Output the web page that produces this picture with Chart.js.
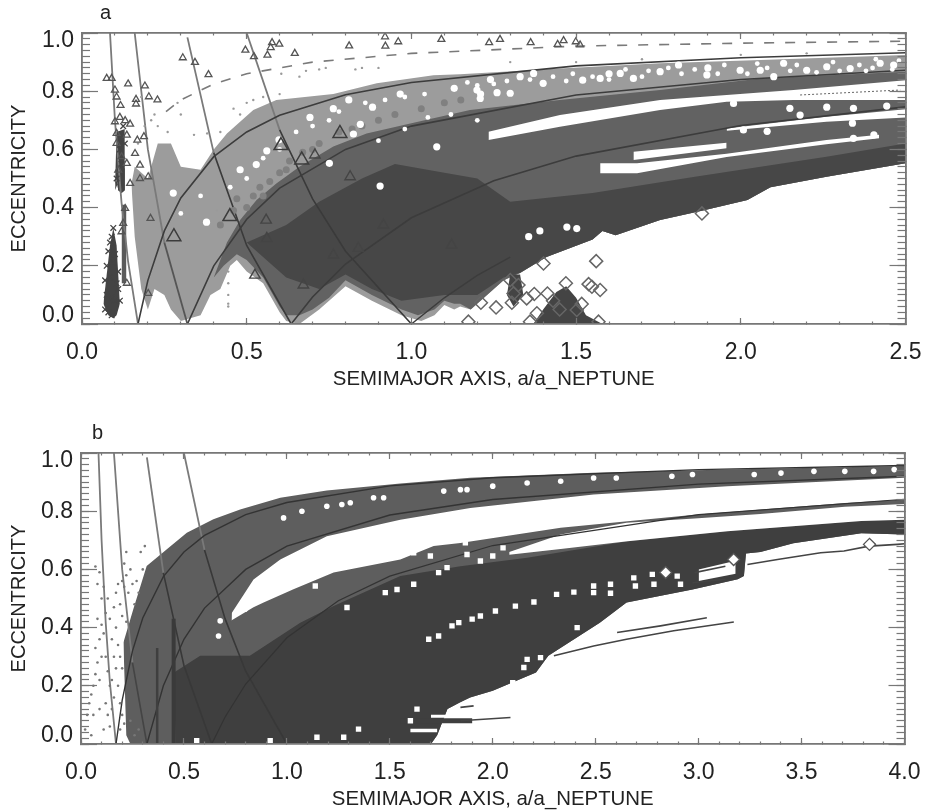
<!DOCTYPE html>
<html><head><meta charset="utf-8">
<style>
html,body{margin:0;padding:0;background:#fff;width:927px;height:812px;overflow:hidden}
canvas{position:absolute;left:0;filter:blur(.45px)}
#ca{top:0}#cb{top:406px}
.tag{position:absolute;font:20px "Liberation Sans",sans-serif;color:#222}
</style>
<script src="https://cdn.jsdelivr.net/npm/chart.js@4"></script>
</head><body>
<canvas id="ca" width="927" height="406"></canvas>
<canvas id="cb" width="927" height="406"></canvas>
<div class="tag" style="left:100px;top:1px">a</div>
<div class="tag" style="left:92px;top:421px">b</div>
<script>
// ---- axis values
const xTitle='SEMIMAJOR AXIS, a/a_NEPTUNE', yTitle='ECCENTRICITY';
const aXTicks=[0,.5,1,1.5,2,2.5], aXLabels=['0.0','0.5','1.0','1.5','2.0','2.5'];
const bXTicks=[0,.5,1,1.5,2,2.5,3,3.5,4], bXLabels=['0.0','0.5','1.0','1.5','2.0','2.5','3.0','3.5','4.0'];
const yTicks=[0,.2,.4,.6,.8,1], yLabels=[['0.0',''],'0.2','0.4','0.6','0.8',['','1.0']];
const xMinorStep=.1, yMinorStep=.02;

// ---- reference curves (a, e)
const apo17=[[.085,1],[.1,.7],[.12,.417],[.14,.214],[.17,0]];
const apo32Up=[[.16,1],[.2,.6],[.25,.28]], apo32Low=[[.25,.28],[.32,0]];
const apo64Up=[[.32,.985],[.4,.588]], apo64Low=[[.4,.588],[.5,.27],[.635,0]];
const apo100Up=[[.5,1],[.6,.667]], apo100Low=[[.6,.667],[.7,.43],[.8,.25],[1,0]];
const peri17=[[.17,0],[.2,.15],[.25,.32],[.3,.433],[.4,.575],[.5,.66],[.6,.717],[.8,.788],[1,.83],[1.5,.887],[2,.915],[2.5,.932]];
const peri32=[[.32,0],[.4,.2],[.5,.36],[.6,.467],[.8,.6],[1,.68],[1.5,.787],[2,.84],[2.5,.872]];
const peri64=[[.635,0],[.7,.093],[.8,.206],[1,.365],[1.25,.492],[1.5,.577],[2,.682],[2.5,.746]];
const peri100=[[1,0],[1.1,.09],[1.2,.167],[1.3,.23]];
const bPeri17=[[.17,0],[.2,.15],[.25,.32],[.3,.433],[.4,.575],[.5,.66],[.6,.717],[.8,.788],[1,.83],[1.5,.887],[2,.915],[3,.943],[4,.957]];
const bPeri32=[[.32,0],[.4,.2],[.5,.36],[.6,.467],[.8,.6],[1,.68],[1.5,.787],[2,.84],[3,.893],[4,.92]];
const bPeri64=[[.635,0],[.7,.093],[.8,.206],[1,.365],[1.25,.492],[1.5,.577],[2,.682],[3,.788],[4,.841]];
const dashed=[[.255,.73],[.3,.77],[.4,.825],[.5,.86],[.7,.9],[1,.93],[1.5,.955],[2,.965],[2.5,.972]];

// ---- panel a density envelopes (a, e)
const aLightHi=[[.15,.48],[.16,.54],[.2,.5],[.23,.62],[.27,.62],[.3,.54],[.36,.53],[.4,.6],[.44,.655],[.52,.735],[.59,.77],[.763,.79],[.895,.827],[1.067,.855],[1.148,.858],[1.45,.878],[1.755,.896],[2.06,.907],[2.5,.924]];
const aLightLo=[[.15,.48],[.16,.3],[.18,.12],[.2,.05],[.22,.12],[.25,.1],[.27,.05],[.3,.01],[.36,.03],[.39,.1],[.42,.12],[.45,.2],[.47,.22],[.5,.18],[.55,.14],[.6,.04],[.62,.01],[.66,0],[.72,.05],[.8,.13],[.88,.08],[.97,.03],[1.03,.01],[1.07,.03],[1.1,.065],[1.13,.05],[1.148,.06],[1.18,.05],[1.21,.08],[1.28,.15],[1.33,.175],[1.41,.23],[1.55,.29],[1.58,.32],[1.62,.305],[1.755,.357],[1.885,.39],[2.02,.426],[2.09,.47],[2.26,.506],[2.5,.552]];
const aMidHi=[[.4,.16],[.44,.28],[.48,.357],[.53,.426],[.59,.483],[.66,.54],[.763,.61],[.864,.655],[1,.69],[1.178,.735],[1.45,.77],[1.755,.804],[2.06,.844],[2.5,.867]];
const aMidLo=[[.4,.16],[.43,.2],[.47,.24],[.5,.22],[.55,.16],[.6,.06],[.62,.03],[.66,.03],[.7,.05],[.75,.09],[.8,.15],[.88,.1],[.97,.05],[1.02,.03],[1.07,.05],[1.1,.08],[1.13,.07],[1.148,.07],[1.18,.05],[1.21,.08],[1.28,.15],[1.33,.175],[1.41,.23],[1.55,.29],[1.58,.32],[1.62,.305],[1.755,.357],[1.885,.39],[2.02,.426],[2.09,.47],[2.26,.506],[2.5,.552]];
const aDarkHi=[[.5,.28],[.62,.34],[.72,.42],[.85,.5],[.95,.55],[1.1,.52],[1.2,.5],[1.3,.42],[1.55,.45],[1.856,.505],[2.06,.54],[2.26,.575],[2.5,.62]];
const aDarkLo=[[.5,.28],[.62,.16],[.72,.12],[.8,.17],[.88,.12],[.97,.08],[1.1,.1],[1.2,.1],[1.28,.16],[1.33,.176],[1.41,.23],[1.55,.29],[1.58,.32],[1.62,.305],[1.755,.357],[1.885,.39],[2.02,.426],[2.09,.47],[2.26,.506],[2.5,.552]];
const aStrip1Hi=[[1.234,.661],[1.451,.718],[1.755,.77],[1.957,.787],[2.16,.804],[2.5,.838]];
const aStrip1Lo=[[1.234,.632],[1.451,.678],[1.755,.735],[1.957,.764],[2.16,.77],[2.5,.77]];
const aStrip2Hi=[[1.674,.592],[1.957,.623]], aStrip2Lo=[[1.674,.564],[1.957,.604]];
const aStrip3Hi=[[1.573,.552],[1.685,.552],[1.957,.585],[2.26,.632],[2.42,.65]];
const aStrip3Lo=[[1.573,.518],[1.685,.518],[1.957,.574],[2.26,.618],[2.42,.638]];
const aStrip4Hi=[[1.957,.672],[2.26,.712],[2.5,.738]], aStrip4Lo=[[1.957,.664],[2.26,.695],[2.5,.71]];
const aColLowHi=[[.065,.07],[.085,.27],[.095,.33],[.105,.27],[.115,.07]], aColLowLo=[[.065,.07],[.08,.03],[.095,.02],[.105,.03],[.115,.07]];
const aColHighHi=[[.1,.46],[.105,.66],[.13,.67],[.145,.58],[.13,.46]], aColHighLo=[[.1,.46],[.105,.5],[.11,.46],[.12,.45],[.13,.46]];
const aColThinHi=[[.12,.41],[.135,.41]], aColThinLo=[[.12,.14],[.135,.14]];
const aBlobHi=[[1.37,0],[1.40,.05],[1.44,.11],[1.47,.13],[1.50,.09],[1.53,.03],[1.58,0]];
const aBlobLo=[[1.37,0],[1.58,0]];
const aClumpHi=[[1.29,.1],[1.3,.17],[1.33,.17],[1.34,.1]], aClumpLo=[[1.29,.1],[1.31,.06],[1.34,.1]];
const aPatch=[[.47,.43],[.5,.4],[.52,.44],[.54,.47],[.57,.49],[.6,.52],[.63,.56],[.67,.59],[.72,.62],[.78,.66],[.85,.68],[.46,.39],[.55,.44],[.9,.7],[.95,.72],[1.03,.74],[1.1,.76],[1.15,.77],[.42,.34],[.62,.53],[.7,.6],[.82,.67]];
const aWhite=[[.751,.552],[.529,.548],[.561,.595],[.598,.633],[.48,.53],[.692,.71],[.81,.77],[.882,.745],[.824,.653],[.378,.35],[.845,.686],[1.077,.609],[.905,.474],[.763,.74],[.277,.45],[.966,.79],
 [1.39,.32],[1.472,.333],[1.502,.328],[1.356,.3],[2.149,.741],[2.18,.718],[2.342,.741],[2.443,.749],[2.261,.745],[2.339,.69],[2.008,.667],[2.08,.662],[1.978,.758],[2.404,.65],[2.342,.638],
 [1.24,.84],[1.33,.85],[1.4,.827],[1.52,.838],[1.573,.844],[1.634,.861],[1.674,.844],[1.755,.867],[1.811,.89],[1.897,.856],[1.998,.872],[2.059,.872],[2.13,.896],[2.2,.872],[2.261,.884],[2.332,.878],[2.423,.896],[2.464,.89],[1.199,.804],[1.209,.775],[1.3,.793],[1.371,.861],[1.13,.81],[1.21,.79],[1.26,.795],[1.6,.86],[1.9,.88],[2.1,.85]];
const aWhiteSmall=[[1.17,.83],[1.2,.82],[1.25,.825],[1.29,.835],[1.36,.84],[1.43,.85],[1.47,.835],[1.49,.86],[1.55,.85],[1.6,.84],[1.65,.875],[1.7,.85],[1.72,.87],[1.78,.88],[1.82,.86],[1.86,.875],[1.93,.86],[1.95,.89],[2.02,.86],[2.05,.895],[2.08,.88],[2.15,.87],[2.17,.89],[2.23,.865],[2.28,.9],[2.3,.87],[2.36,.89],[2.38,.87],[2.41,.91],[2.46,.875],[2.48,.905],[2.4,.88],[.7,.68],[.75,.7],[.78,.73],[.86,.76],[.92,.77],[.98,.78],[1.04,.79],[.65,.66],[.6,.6],[.55,.57],[.5,.5],[.45,.47],[.36,.44],[.3,.38],[.98,.67],[1.05,.71],[.9,.63],[1.12,.72],[1.2,.7]];
const aSparse=[[.605,.86],[.66,.85],[.68,.87],[.72,.875],[.74,.88],[.83,.875],[.85,.88],[.9,.88],[.29,.76],[.3,.72],[.22,.72],[.23,.68],[.21,.7],[.5,.76],[.46,.74],[.48,.72],[.42,.66],[.38,.655],[.55,.78],[.52,.77],[.6,.79],[.34,.65],[.26,.66],[.18,.78],[.19,.68],[.17,.62],[.44,.44],[.41,.39],[.444,.18],[.444,.14],[.444,.1],[.444,.07],[.444,.06],[1.3,.9],[1.5,.9],[1.7,.91],[2.0,.925],[2.2,.93]];
const aTriSmall=[[.075,.844],[.09,.844],[.14,.825],[.1,.804],[.191,.818],[.203,.781],[.229,.77],[.164,.772],[.164,.756],[.105,.78],[.117,.751],[.306,.915],[.343,.899],[.384,.857],[.496,.941],[.522,.919],[.563,.924],[.573,.95],[.577,.967],[.599,.962],[.646,.93],[.811,.956],[.92,.987],[.921,.955],[.96,.97],[1.091,.978],[1.236,.967],[1.269,.978],[1.362,.967],[1.444,.961],[1.462,.974],[1.499,.97],[1.512,.959],[.201,.105],[.208,.363],[.201,.506],[.176,.5],[.176,.546],[.161,.586],[.168,.632],[.188,.644],[.1,.695],[.115,.71],[.131,.699],[.146,.687],[.105,.655],[.136,.649],[.105,.621],[.12,.575],[.136,.552],[.11,.529],[.146,.483],[.131,.397],[.125,.346],[.12,.317],[.136,.14]];
const aTriMed=[[.707,.581],[.814,.506],[.559,.357],[.561,.294],[.763,.237],[.672,.134],[.525,.168],[1.122,.271],[.839,.26],[.915,.34]];
const aTriLarge=[[.279,.3],[.449,.369],[.604,.613],[.667,.564],[.783,.655]];
const aCross=[[.07,.05],[.08,.04],[.09,.03],[.075,.1],[.09,.09],[.1,.08],[.07,.15],[.085,.16],[.105,.14],[.075,.2],[.095,.21],[.11,.18],[.08,.25],[.1,.24],[.09,.3],[.095,.33],[.085,.28],[.11,.12],[.115,.08],[.105,.5],[.12,.55],[.13,.62],[.115,.6],[.125,.68]];
const aDiamond=[[1.882,.38],[1.561,.216],[1.211,.073],[1.257,.057],[1.173,.008],[1.305,.073],[1.35,.088],[1.373,.103],[1.413,.105],[1.469,.14],[1.538,.137],[1.573,.117],[1.517,.069],[1.502,.048],[1.401,.208],[1.3,.151],[1.325,.134],[1.31,.105],[1.381,.037],[1.36,.008],[1.568,.008],[1.548,.128],[1.43,.08],[1.45,.05]];
const aThin=[[2.18,.787],[2.484,.804]];

// ---- panel b density envelopes (a, e)
const bMidHi=[[.206,.349],[.254,.463],[.319,.612],[.417,.669],[.514,.726],[.643,.772],[.773,.806],[.968,.846],[1.194,.871],[1.551,.895],[1.891,.915],[2.49,.932],[3.14,.943],[4,.955]];
const bMidLo=[[.206,.349],[.22,.03],[.24,0],[.72,0],[.733,.451],[.838,.565],[.968,.634],[1.194,.714],[1.551,.771],[1.891,.811],[2.49,.857],[3.14,.886],[4,.915]];
const bBodyHi=[[.72,.42],[.838,.47],[.887,.486],[1.032,.532],[1.227,.589],[1.551,.634],[1.713,.68],[1.843,.691],[2.33,.743],[2.98,.788],[3.71,.828],[4,.84]];
const bBodyLo=[[.72,.42],[.74,0],[1.7,0],[1.73,.03],[1.78,.12],[1.84,.143],[1.89,.16],[2,.183],[2.21,.246],[2.27,.303],[2.52,.417],[2.65,.486],[2.97,.531],[3.19,.566],[3.22,.577],[3.23,.655],[3.3,.66],[3.46,.69],[3.79,.724],[4,.72]];
const bDarkHi=[[.45,.245],[.579,.303],[.82,.303],[1.065,.417],[1.227,.474],[1.551,.577],[1.843,.611],[2.167,.64],[2.655,.697],[3.14,.731],[3.79,.766],[4,.771]];
const bDarkLo=[[.45,.245],[.46,0],[1.7,0],[1.73,.03],[1.78,.12],[1.84,.143],[1.89,.16],[2,.183],[2.21,.246],[2.27,.303],[2.52,.417],[2.65,.486],[2.97,.531],[3.19,.566],[3.22,.577],[3.23,.655],[3.3,.66],[3.46,.69],[3.79,.724],[4,.72]];
const bGapHi=[[2.08,.66],[2.33,.72],[2.65,.76],[2.98,.775],[3.3,.79],[3.71,.815],[4,.825]];
const bGapLo=[[2.08,.65],[2.33,.67],[2.655,.697],[3.14,.731],[3.79,.766],[4,.771]];
const bHoleHi=[[3,.6],[3.18,.63]], bHoleLo=[[3,.56],[3.18,.585]];
const bColumn1=[[.37,0],[.37,.33]], bColumn2=[[.45,0],[.45,.43]];
const bTailDark=[[1.55,.08],[1.9,.08]], bTailWhite=[[1.7,.095],[1.84,.095]], bTailGap=[[1.6,.046],[1.73,.046]];
const bThin=[
 [[2.604,.383],[2.815,.406],[3.04,.434]],
 [[2.297,.303],[2.49,.337],[2.65,.36],[2.879,.389],[3.171,.419]],
 [[1.843,.126],[1.907,.131]],
 [[1.843,.08],[2.086,.091]],
 [[3.237,.617],[3.383,.634],[3.593,.657],[3.706,.663],[3.828,.68],[3.966,.686],[4,.688]],
 [[2.98,.589],[3.13,.611]],
 [[2.97,.554],[3.13,.566]]];
const bWhiteRound=[[1.073,.8],[1.194,.817],[1.267,.823],[1.308,.829],[1.47,.846],[1.421,.846],[1.762,.869],[1.843,.874],[1.875,.874],[2,.886],[2.167,.897],[2.33,.903],[2.49,.914],[2.6,.914],[2.87,.92],[2.97,.926],[3.27,.926],[3.4,.931],[3.56,.937],[3.71,.937],[3.85,.937],[3.95,.943],[.984,.777],[.676,.423],[.668,.371],[.797,.463]];
const bWhiteRect=[[1.478,.52],[1.535,.531],[1.616,.549],[1.689,.36],[1.737,.371],[1.802,.406],[1.835,.417],[1.292,.469],[.562,.011],[1.146,.023],[1.348,.051],[1.276,.023],[1.632,.12],[1.6,.08],[.919,.011],[1.867,.691],[1.778,.606],[1.737,.589],[1.697,.646],[1.616,.657],[1.138,.543],
 [2.013,.457],[1.94,.44],[1.9,.429],[2.11,.474],[2.2,.488],[2.31,.514],[2.394,.522],[2.49,.543],[2.572,.549],[2.49,.52],[2.572,.518],[2.685,.571],[2.693,.543],[2.775,.583],[2.783,.549],[2.896,.577],[2.912,.549],[2.41,.4],[2.49,.371],[2.167,.291],[2.232,.297],[2.151,.263],[2.183,.223],[2.097,.211],[1.875,.651],[1.94,.629],[2,.646],[2.05,.674]];
const bSparse=[[.02,.05],[.03,.1],[.04,.14],[.05,.17],[.06,.2],[.07,.24],[.08,.28],[.09,.22],[.1,.3],[.07,.33],[.09,.36],[.1,.41],[.08,.43],[.11,.38],[.12,.3],[.13,.25],[.14,.2],[.15,.22],[.16,.16],[.12,.45],[.1,.5],[.08,.55],[.09,.59],[.11,.54],[.07,.61],[.13,.5],[.14,.43],[.15,.36],[.16,.3],[.17,.26],[.18,.2],[.19,.14],[.17,.4],[.18,.34],[.19,.3],[.2,.26],[.16,.47],[.17,.52],[.18,.55],[.19,.48],[.2,.44],[.21,.54],[.22,.58],[.23,.52],[.24,.6],[.25,.55],[.2,.56],[.22,.66],[.21,.62],[.27,.56],[.29,.66],[.31,.68],[.3,.6],[.28,.52],[.26,.48],[.22,.42],[.2,.1],[.19,.05],[.21,.07],[.14,.06],[.11,.05],[.09,.12],[.06,.1],[.05,.03],[.12,.14],[.13,.1],[.15,.12],[.24,.08],[.26,.03],[.28,.05]];
const bDiamond=[[2.84,.589],[3.17,.634],[3.83,.686]];

// ---- helpers
const textCol='#222', frameCol='#777', fontFam='"Liberation Sans",Arial,sans-serif';
const pts=p=>p.map(([x,y])=>({x,y}));
const lightC='#9c9c9c', midC='#626262', darkC='#474747', patchC='#808080';

function build(cfg){
  const ds=[]; const push=d=>{d.order=100000-ds.length;ds.push(d);};
  const base={pointRadius:0,borderWidth:0,tension:0,spanGaps:true};
  cfg.bands.forEach(([hi,lo,c])=>{
    push({...base,data:pts(hi),fill:'+1',backgroundColor:c,borderColor:c});
    push({...base,data:pts(lo),fill:false,backgroundColor:c,borderColor:c});
  });
  cfg.lines.forEach(([p,c,w,dash])=>push({...base,data:pts(p),fill:false,borderColor:c,borderWidth:w,borderDash:dash||[]}));
  cfg.marks.forEach(([p,style,r,fillC,lineC,lw])=>push({data:pts(p),showLine:false,pointStyle:style,pointRadius:r,
     pointBackgroundColor:fillC,pointBorderColor:lineC,pointBorderWidth:lw}));
  const {xMax,xTicks,xLabels,top,canvas,padBottom}=cfg;
  const minorX=[],minorY=[];
  for(let i=0;i<=Math.round(xMax/xMinorStep);i++)minorX.push(+(i*xMinorStep).toFixed(2));
  for(let i=0;i<=Math.round(1/yMinorStep);i++)minorY.push(+(i*yMinorStep).toFixed(2));
  const mk=(pos,min,max,vals,len,extra)=>({type:'linear',position:pos,min,max,weight:0,
     afterBuildTicks:s=>{s.ticks=vals.map(v=>({value:v}));},
     afterFit:s=>{if(pos==='bottom'||pos==='top')s.height=0;else s.width=0;s.paddingLeft=s.paddingRight=s.paddingTop=s.paddingBottom=0;},
     grid:{drawOnChartArea:false,drawTicks:true,tickLength:-len,tickColor:frameCol,tickWidth:1.2,z:1},
     border:{display:true,color:frameCol,width:1.6,z:1},
     ticks:{display:false,autoSkip:false},...extra});
  const scales={
    x:{type:'linear',position:'bottom',min:0,max:xMax,weight:1,
       afterBuildTicks:s=>{s.ticks=xTicks.map(v=>({value:v}));},
       afterFit:s=>{s.height=68;s.paddingLeft=s.paddingRight=0;},
       grid:{drawOnChartArea:false,drawTicks:true,tickLength:-6,tickColor:frameCol,tickWidth:1.2,z:1},
       border:{display:true,color:frameCol,width:1.6,z:1},
       ticks:{autoSkip:false,maxRotation:0,padding:21,color:textCol,font:{family:fontFam,size:23},
              callback:(v,i)=>xLabels[i]},
       title:{display:true,text:xTitle,color:textCol,font:{family:fontFam,size:20.4},padding:{top:3,bottom:0}}},
    y:{type:'linear',position:'left',min:0,max:1,weight:1,
       afterBuildTicks:s=>{s.ticks=yTicks.map(v=>({value:v}));},
       afterFit:s=>{s.width=cfg.left;s.paddingTop=s.paddingBottom=0;},
       grid:{drawOnChartArea:false,drawTicks:true,tickLength:-16,tickColor:frameCol,tickWidth:1.2,z:1},
       border:{display:true,color:frameCol,width:1.6,z:1},
       ticks:{autoSkip:false,padding:24,color:textCol,font:{family:fontFam,size:23,lineHeight:'16px'},
              callback:(v,i)=>yLabels[i]},
       title:{display:true,text:yTitle,color:textCol,font:{family:fontFam,size:20},padding:{top:7,bottom:0}}},
    xm:mk('bottom',0,xMax,minorX,2.5),
    xt:mk('top',0,xMax,xTicks,6),
    xtm:mk('top',0,xMax,minorX,2.5),
    ym:mk('left',0,1,minorY,8),
    yr:mk('right',0,1,yTicks,16),
    yrm:mk('right',0,1,minorY,8)
  };
  return new Chart(document.getElementById(canvas),{type:'line',data:{datasets:ds},
    options:{responsive:false,animation:false,parsing:{xAxisKey:'x',yAxisKey:'y'},
      layout:{padding:{top,right:cfg.right,bottom:padBottom,left:0}},
      plugins:{legend:{display:false},tooltip:{enabled:false},title:{display:false}},
      events:[],scales}});
}
const curveC='#7a7a7a', periC='#3c3c3c', innerC='#3a3a3a';
build({canvas:'ca',xMax:2.5,xTicks:aXTicks,xLabels:aXLabels,top:33,right:21.5,padBottom:14,left:82,
  bands:[
    [aLightHi,aLightLo,lightC],[aMidHi,aMidLo,midC],[aDarkHi,aDarkLo,darkC],
    [aStrip1Hi,aStrip1Lo,'#fff'],[aStrip2Hi,aStrip2Lo,'#fff'],[aStrip3Hi,aStrip3Lo,'#fff'],[aStrip4Hi,aStrip4Lo,'#fff'],
    [aColLowHi,aColLowLo,'#444'],[aColHighHi,aColHighLo,'#444'],[aColThinHi,aColThinLo,'#5a5a5a'],
    [aBlobHi,aBlobLo,'#444'],[aClumpHi,aClumpLo,'#444']],
  lines:[[apo17,curveC,1.8],[apo32Up,curveC,1.8],[apo32Low,'#555',1.8],[apo64Up,curveC,1.8],[apo64Low,innerC,1.6],[apo100Up,curveC,1.8],[apo100Low,innerC,1.6],
    [peri17,periC,1.6],[peri32,periC,1.6],[peri64,periC,1.6],[peri100,periC,1.4],[dashed,curveC,1.6,[10,11]],[aThin,'#666',1,[2,2]]],
  marks:[[aPatch,'circle',3.5,patchC,patchC,0],[aWhite,'circle',3.6,'#fff','#fff',0],[aWhiteSmall,'circle',2.4,'#fff','#fff',0],[aSparse,'circle',1.2,'#9a9a9a','#9a9a9a',0],
    [aCross,'crossRot',4,'#444','#444',1.3],
    [aTriSmall,'triangle',4,'rgba(0,0,0,0)','#555',1.3],[aTriMed,'triangle',6,'rgba(0,0,0,0)','#444',1.4],[aTriLarge,'triangle',8,'rgba(0,0,0,0)','#3c3c3c',1.5],
    [aDiamond,'rectRot',6.5,'rgba(0,0,0,0)','#666',1.5]]
});
build({canvas:'cb',xMax:4,xTicks:bXTicks,xLabels:bXLabels,top:47,right:22.5,padBottom:0,left:81,
  bands:[[bMidHi,bMidLo,'#5e5e5e'],[bBodyHi,bBodyLo,'#5e5e5e'],[bDarkHi,bDarkLo,'#3f3f3f'],[bGapHi,bGapLo,'#fff'],[bHoleHi,bHoleLo,'#fff']],
  lines:[[apo17,curveC,1.8],[apo32Up,curveC,1.8],[apo32Low,'#444',1.6],[apo64Up,curveC,1.8],[apo64Low,'#383838',1.6],[apo100Up,curveC,1.8],[apo100Low,'#383838',1.6],
    [bPeri17,'#333',1.4],[bPeri32,'#333',1.4],[bPeri64,'#333',1.2],
    [bColumn1,'#3f3f3f',2.5],[bColumn2,'#3a3a3a',4],
    [bTailDark,'#3f3f3f',5],[bTailWhite,'#fff',3],[bTailGap,'#fff',3.5],
    ...bThin.map(p=>[p,'#444',1.6])],
  marks:[[bWhiteRound,'circle',2.8,'#fff','#fff',0],[bWhiteRect,'rect',3.8,'#fff','#fff',0],[bSparse,'circle',1.3,'#777','#777',0],
    [bDiamond,'rectRot',6,'#fff','#555',1.4]]
});
</script>
</body></html>
